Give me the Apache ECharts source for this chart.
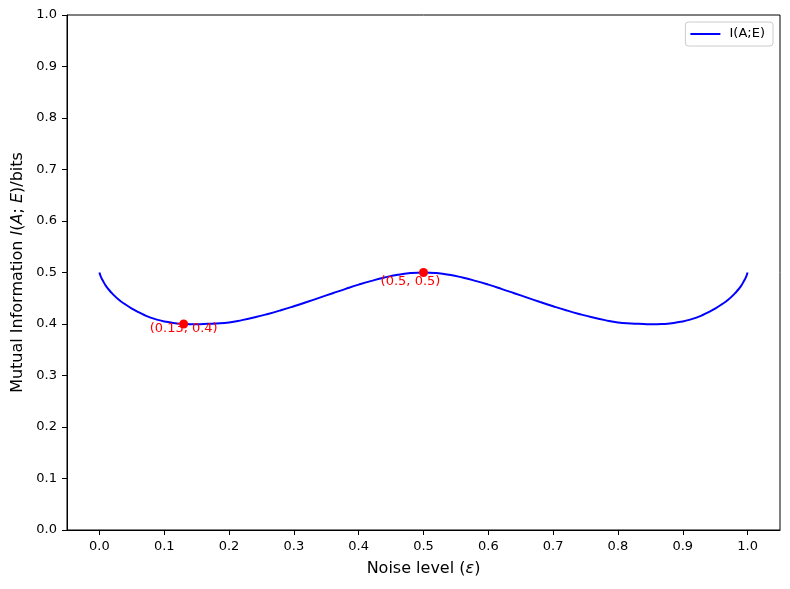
<!DOCTYPE html>
<html>
<head>
<meta charset="utf-8">
<script src="https://cdn.jsdelivr.net/npm/echarts@6/dist/echarts.min.js"></script>
<style>
  html, body { margin: 0; padding: 0; background: #fff; }
  #chart { width: 790px; height: 589px; }
</style>
</head>
<body>
<div id="chart"></div>
<script>
// noise level (x) and mutual information (y)
var epsilon = [0, 0.0025, 0.005, 0.01, 0.015, 0.02, 0.03, 0.04, 0.05, 0.06, 0.07, 0.08, 0.09, 0.10,
  0.11, 0.12, 0.13, 0.14, 0.15, 0.16, 0.18, 0.20, 0.22, 0.24, 0.26, 0.28, 0.30, 0.32, 0.34, 0.36,
  0.38, 0.40, 0.42, 0.44, 0.46, 0.48, 0.50,
  0.52, 0.54, 0.56, 0.58, 0.60, 0.62, 0.64, 0.66, 0.68, 0.70, 0.72, 0.74, 0.76, 0.78, 0.80, 0.82,
  0.84, 0.85, 0.86, 0.87, 0.88, 0.89, 0.90, 0.91, 0.92, 0.93, 0.94, 0.95, 0.96, 0.97, 0.98, 0.985,
  0.99, 0.995, 0.9975, 1.0];
var info = [0.500, 0.491, 0.485, 0.474, 0.466, 0.459, 0.447, 0.438, 0.430, 0.423, 0.417, 0.412, 0.408, 0.405,
  0.403, 0.401, 0.400, 0.3995, 0.3995, 0.400, 0.401, 0.403, 0.4075, 0.413, 0.4195, 0.4267, 0.4345, 0.4427, 0.4512, 0.4598,
  0.4683, 0.4764, 0.4838, 0.4903, 0.4955, 0.4988, 0.500,
  0.4988, 0.4955, 0.4903, 0.4838, 0.4764, 0.4683, 0.4598, 0.4512, 0.4427, 0.4345, 0.4267, 0.4195, 0.413, 0.4075, 0.403, 0.401,
  0.400, 0.3995, 0.3995, 0.400, 0.401, 0.403, 0.405, 0.408, 0.412, 0.417, 0.423, 0.430, 0.438, 0.447, 0.459, 0.466,
  0.474, 0.485, 0.491, 0.500];

// marked points
var markX = [0.13, 0.5];
var markY = [0.4, 0.5];
var markText = ['(0.13, 0.4)', '(0.5, 0.5)'];

var xTicks = [0, 0.1, 0.2, 0.3, 0.4, 0.5, 0.6, 0.7, 0.8, 0.9, 1.0];

var font = 'DejaVu Sans';

function lineData() {
  var out = [];
  for (var i = 0; i < epsilon.length; i++) {
    out.push([epsilon[i], info[i]]);
  }
  return out;
}

function markData() {
  // [dx, distance] for each label
  var offsets = [[0, -6], [-13, -1.5]];
  var out = [];
  for (var i = 0; i < markX.length; i++) {
    out.push({
      value: [markX[i], markY[i]],
      label: {
        show: true,
        position: 'bottom',
        distance: offsets[i][1],
        offset: [offsets[i][0], 0],
        formatter: markText[i]
      }
    });
  }
  return out;
}

var chart = echarts.init(document.getElementById('chart'), null, { renderer: 'canvas' });

chart.setOption({
  animation: false,
  backgroundColor: '#fff',
  textStyle: { fontFamily: font },
  grid: {
    left: 67, right: 10, top: 15, bottom: 59,
    show: true, borderColor: '#000', borderWidth: 1
  },
  legend: {
    data: [{ name: 'I(A;E)', icon: 'rect' }],
    formatter: ' {name}',
    right: 17, top: 22,
    orient: 'vertical',
    padding: [4, 8, 4, 5],
    itemWidth: 30, itemHeight: 2,
    borderColor: '#cccccc', borderWidth: 1, borderRadius: 3,
    backgroundColor: '#fff',
    textStyle: { fontFamily: font, fontSize: 13, color: '#000', lineHeight: 16 }
  },
  xAxis: {
    type: 'value',
    min: -0.05, max: 1.05,
    splitLine: { show: false },
    axisLine: { onZero: false, lineStyle: { color: '#000', width: 1 } },
    axisTick: { show: true, length: 5, lineStyle: { color: '#000' }, customValues: xTicks },
    axisLabel: {
      color: '#000', fontSize: 13, fontFamily: font, margin: 10,
      customValues: xTicks,
      formatter: function (v) { return v.toFixed(1); }
    },
    name: '{n|Noise level (}{i|ε}{n|)}',
    nameLocation: 'middle',
    nameGap: 31,
    nameTextStyle: {
      rich: {
        n: { fontFamily: font, fontSize: 16, color: '#000' },
        i: { fontFamily: font, fontSize: 16, color: '#000', fontStyle: 'italic' }
      }
    }
  },
  yAxis: {
    type: 'value',
    min: 0, max: 1, interval: 0.1,
    splitLine: { show: false },
    axisLine: { show: true, onZero: false, lineStyle: { color: '#000', width: 1 } },
    axisTick: { show: true, length: 5, lineStyle: { color: '#000' } },
    axisLabel: {
      color: '#000', fontSize: 13, fontFamily: font, margin: 10,
      formatter: function (v) { return v.toFixed(1); }
    },
    name: '{n|Mutual Information }{i|I}{n|(}{i|A}{n|; }{i|E}{n|)/bits}',
    nameLocation: 'middle',
    nameGap: 38,
    nameTextStyle: {
      rich: {
        n: { fontFamily: font, fontSize: 16, color: '#000' },
        i: { fontFamily: font, fontSize: 16, color: '#000', fontStyle: 'italic' }
      }
    }
  },
  series: [
    {
      name: 'I(A;E)',
      type: 'line',
      data: lineData(),
      smooth: 0.5,
      symbol: 'none',
      lineStyle: { color: '#0000ff', width: 2 },
      itemStyle: { color: '#0000ff' },
      z: 2
    },
    {
      name: 'points',
      type: 'scatter',
      data: markData(),
      symbol: 'circle',
      symbolSize: 9,
      itemStyle: { color: '#ff0000', opacity: 1 },
      label: { color: '#ff0000', fontSize: 13, fontFamily: font },
      z: 3
    }
  ]
});
</script>
</body>
</html>
